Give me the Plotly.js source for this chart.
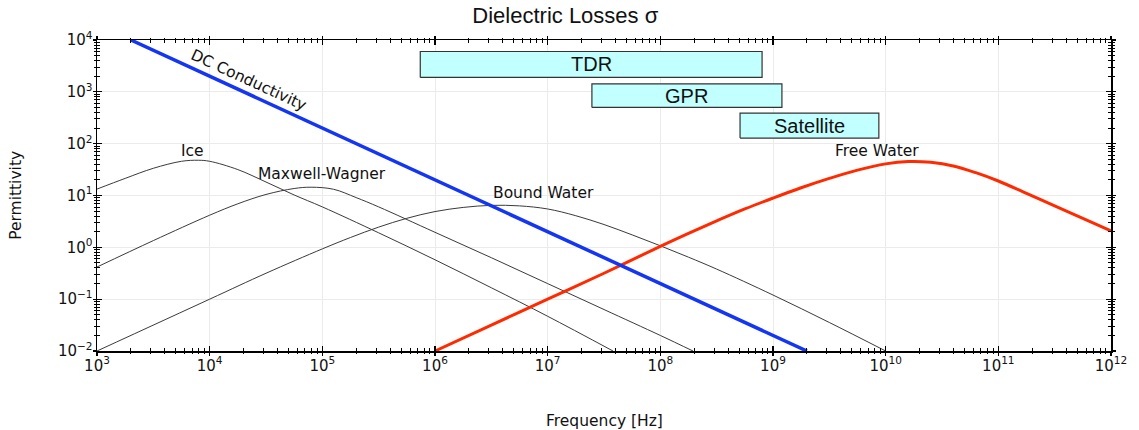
<!DOCTYPE html>
<html>
<head>
<meta charset="utf-8">
<script src="https://cdn.plot.ly/plotly-3.0.1.min.js"></script>
<style>html,body{margin:0;padding:0;background:#fff}#chart{width:1139px;height:430px}</style>
</head>
<body>
<div id="chart"></div>
<script>
// ---- data (log10 of frequency, log10 of value) ----
const dcLogF   = [3.301, 9.301];
const dcLogV   = [4, -2];

const iceLogF  = [3, 3.25, 3.5, 3.75, 3.9, 4.0, 4.25, 4.5, 4.75, 5, 5.5, 6, 6.5, 7, 7.58];
const iceLogV  = [1.124, 1.33, 1.525, 1.66, 1.68, 1.66, 1.5, 1.26, 1.01, 0.78, 0.28, -0.24, -0.78, -1.33, -2];

const mwLogF   = [3, 3.5, 4, 4.25, 4.5, 4.75, 4.9, 5.1, 5.3, 5.5, 6, 6.5, 7, 7.5, 8, 8.29];
const mwLogV   = [-0.38, 0.13, 0.62, 0.84, 1.02, 1.135, 1.16, 1.12, 0.96, 0.78, 0.29, -0.2, -0.7, -1.2, -1.7, -2];

const bwLogF   = [3, 4, 4.5, 5, 5.25, 5.5, 5.75, 6, 6.25, 6.5, 6.75, 7, 7.25, 7.5, 7.75, 8, 8.25, 8.5, 9, 9.5, 10];
const bwLogV   = [-2, -1, -0.5, -0.03, 0.19, 0.39, 0.56, 0.69, 0.77, 0.81, 0.80, 0.74, 0.61, 0.44, 0.24, 0.03, -0.19, -0.42, -0.92, -1.45, -2];

const fwLogF   = [6, 6.5, 7, 7.5, 8, 8.25, 8.5, 8.75, 9, 9.25, 9.5, 9.75, 10, 10.2, 10.4, 10.6, 10.8, 11, 11.25, 11.5, 11.75, 12];
const fwLogV   = [-2, -1.5, -1, -0.5, 0.02, 0.27, 0.51, 0.74, 0.95, 1.15, 1.33, 1.49, 1.61, 1.655, 1.64, 1.57, 1.44, 1.28, 1.04, 0.8, 0.56, 0.316];

const bandNames = ["TDR", "GPR", "Satellite"];
const bandLo    = [7.4e5, 2.47e7, 5.1e8];
const bandHi    = [8.0e8, 1.2e9, 8.7e9];
const bandYlo   = [1.9e3, 500, 128];
const bandYhi   = [6.0e3, 1.43e3, 389];

const curveLabels = ["DC Conductivity", "Ice", "Maxwell-Wagner", "Bound Water", "Free Water"];
const labelLogF   = [4.342, 3.85, 4.996, 6.963, 9.924];
const labelLogV   = [3.22, 1.861, 1.408, 1.052, 1.852];

const xTickVals = [1e3,1e4,1e5,1e6,1e7,1e8,1e9,1e10,1e11,1e12];
const xTickText = ["10<sup>3</sup>","10<sup>4</sup>","10<sup>5</sup>","10<sup>6</sup>","10<sup>7</sup>",
                   "10<sup>8</sup>","10<sup>9</sup>","10<sup>10</sup>","10<sup>11</sup>","10<sup>12</sup>"];
const yTickVals = [1e-2,1e-1,1e0,1e1,1e2,1e3,1e4];
const yTickText = ["10<sup>−2</sup>","10<sup>−1</sup>","10<sup>0</sup>","10<sup>1</sup>",
                   "10<sup>2</sup>","10<sup>3</sup>","10<sup>4</sup>"];

// ---- build ----
const pow = a => a.map(v => Math.pow(10, v));
const traces = [];

bandNames.forEach((n, i) => {
  traces.push({
    x: [bandLo[i], bandHi[i], bandHi[i], bandLo[i], bandLo[i]],
    y: [bandYlo[i], bandYlo[i], bandYhi[i], bandYhi[i], bandYlo[i]],
    mode: 'lines', fill: 'toself', fillcolor: '#c2ffff',
    line: {color: '#333333', width: 1.2}, hoverinfo: 'skip', showlegend: false
  });
});

const thin = {color: '#3a3a3a', width: 1, shape: 'spline', smoothing: 1};
traces.push({x: pow(iceLogF), y: pow(iceLogV), mode: 'lines', line: thin, showlegend: false});
traces.push({x: pow(mwLogF), y: pow(mwLogV), mode: 'lines', line: thin, showlegend: false});
traces.push({x: pow(bwLogF), y: pow(bwLogV), mode: 'lines', line: thin, showlegend: false});
traces.push({x: pow(fwLogF), y: pow(fwLogV), mode: 'lines',
  line: {color: '#ff2a00', width: 3, shape: 'spline', smoothing: 1}, showlegend: false});
traces.push({x: pow(dcLogF), y: pow(dcLogV), mode: 'lines',
  line: {color: '#1436f2', width: 3.5}, showlegend: false});

const annotations = [];
bandNames.forEach((n, i) => {
  annotations.push({
    x: (Math.log10(bandLo[i]) + Math.log10(bandHi[i])) / 2,
    y: (Math.log10(bandYlo[i]) + Math.log10(bandYhi[i])) / 2,
    xref: 'x', yref: 'y', text: n, showarrow: false,
    font: {family: 'Liberation Sans, Arial, sans-serif', size: 20, color: '#111'},
    xanchor: 'center', yanchor: 'middle'
  });
});
curveLabels.forEach((t, i) => {
  annotations.push({
    x: labelLogF[i], y: labelLogV[i], xref: 'x', yref: 'y', text: t, showarrow: false,
    textangle: i === 0 ? 24.7 : 0,
    font: {family: 'DejaVu Sans, sans-serif', size: 15.5, color: '#111'},
    xanchor: 'center', yanchor: 'middle'
  });
});
annotations.push({
  x: -0.0805, y: 0.5, xref: 'paper', yref: 'paper', text: 'Permittivity', textangle: -90,
  showarrow: false, font: {family: 'DejaVu Sans, sans-serif', size: 15.5, color: '#111'},
  xanchor: 'center', yanchor: 'middle'
});
annotations.push({
  x: 0.5, y: -0.225, xref: 'paper', yref: 'paper', text: 'Frequency [Hz]',
  showarrow: false, font: {family: 'DejaVu Sans, sans-serif', size: 15.5, color: '#111'},
  xanchor: 'center', yanchor: 'middle'
});

const baseX = {
  type: 'log', range: [3, 12], tickvals: xTickVals, ticktext: xTickText,
  showline: true, linecolor: '#000', linewidth: 1.5, mirror: 'allticks',
  ticklen: 5, tickwidth: 1.3, tickcolor: '#000',
  minor: {ticklen: 3, tickwidth: 1, tickcolor: '#000', dtick: 'D1', showgrid: false}
};
const baseY = {
  type: 'log', range: [-2, 4], tickvals: yTickVals, ticktext: yTickText,
  showline: true, linecolor: '#000', linewidth: 1.5, mirror: 'allticks',
  ticklen: 5, tickwidth: 1.3, tickcolor: '#000',
  minor: {ticklen: 3, tickwidth: 1, tickcolor: '#000', dtick: 'D1', showgrid: false}
};

const layout = {
  width: 1139, height: 430,
  margin: {l: 97, r: 28, t: 40, b: 79},
  paper_bgcolor: '#fff', plot_bgcolor: '#fff',
  title: {text: 'Dielectric Losses σ', x: 0.4617 * (1014.3/1139) + 97/1139, xanchor: 'center',
          y: 0.965, yanchor: 'middle',
          font: {family: 'Liberation Sans, Arial, sans-serif', size: 22, color: '#111'}},
  xaxis: Object.assign({}, baseX, {
    ticks: 'inside', showgrid: true, gridcolor: '#ebebeb', gridwidth: 1, zeroline: false,
    tickfont: {family: 'DejaVu Sans, sans-serif', size: 15, color: '#111'},
    minor: Object.assign({}, baseX.minor, {ticks: 'inside'})
  }),
  yaxis: Object.assign({}, baseY, {
    ticks: 'inside', showgrid: true, gridcolor: '#ebebeb', gridwidth: 1, zeroline: false,
    tickfont: {family: 'DejaVu Sans, sans-serif', size: 15, color: '#111'},
    minor: Object.assign({}, baseY.minor, {ticks: 'inside'})
  }),
  xaxis2: Object.assign({}, baseX, {
    overlaying: 'x', side: 'bottom', ticks: 'outside', ticklen: 3, showticklabels: false,
    showgrid: false, zeroline: false,
    minor: Object.assign({}, baseX.minor, {ticks: 'outside', ticklen: 1})
  }),
  yaxis2: Object.assign({}, baseY, {
    overlaying: 'y', side: 'left', ticks: 'outside', ticklen: 3, showticklabels: false,
    showgrid: false, zeroline: false,
    minor: Object.assign({}, baseY.minor, {ticks: 'outside', ticklen: 2})
  }),
  annotations: annotations,
  showlegend: false
};
traces.push({x: [1e3], y: [1e-2], xaxis: 'x2', yaxis: 'y2', mode: 'markers',
  marker: {opacity: 0}, hoverinfo: 'skip', showlegend: false});

Plotly.newPlot('chart', traces, layout, {displayModeBar: false, staticPlot: true});
</script>
</body>
</html>
